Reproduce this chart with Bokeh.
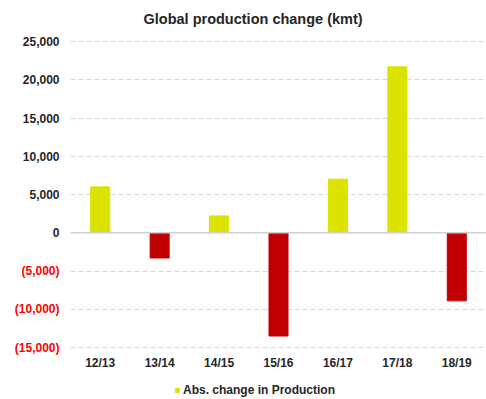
from bokeh.plotting import figure
from bokeh.layouts import row, column
from bokeh.models import (ColumnDataSource, FixedTicker, Span, Legend, LegendItem, Range1d)
from bokeh.embed import file_html
from bokeh.resources import INLINE

categories = ["12/13", "13/14", "14/15", "15/16", "16/17", "17/18", "18/19"]
values = [6000, -3300, 2200, -13500, 7000, 21700, -8900]
y_ticks = [-15000, -10000, -5000, 0, 5000, 10000, 15000, 20000, 25000]
title_text = "Global production change (kmt)"
legend_label = "Abs. change in Production"

POS = "#DCE300"
NEG = "#C00000"
FONT = "Liberation Sans"
TXT = "#262626"
NEG_TXT = "#FF0000"

# layout constants (pixels)
W_LEFT, W_MAIN, H_MAIN, H_LEG = 70, 416, 372, 27
TOP, BOT = 33, 17            # frame spans y = 33 .. 355
PAD_TOP, PAD_BOT = 8, 8      # pixels between frame edge and outer ticks
TICK_SPAN_PX = H_MAIN - TOP - BOT - PAD_TOP - PAD_BOT
ppu = (max(y_ticks) - min(y_ticks)) / TICK_SPAN_PX
Y0 = min(y_ticks) - PAD_BOT * ppu
Y1 = max(y_ticks) + PAD_TOP * ppu
yr = Range1d(Y0, Y1)

colors = [POS if v >= 0 else NEG for v in values]
src = ColumnDataSource(dict(cat=categories, val=values, color=colors))

# ---- main chart ----
p = figure(x_range=categories, y_range=yr, width=W_MAIN, height=H_MAIN,
           output_backend="svg", toolbar_location=None,
           min_border_left=0, min_border_right=0, min_border_top=TOP, min_border_bottom=BOT)
r = p.vbar(x="cat", top="val", bottom=0, width=0.32, color="color", source=src)

p.title.text = title_text
p.title.text_font = FONT
p.title.text_font_size = "14.5px"
p.title.text_font_style = "bold"
p.title.text_color = TXT
p.title.align = "left"
p.title.offset = 73
p.title.standoff = 14

p.outline_line_color = None
p.xgrid.grid_line_color = None
p.yaxis.visible = False
p.ygrid.ticker = FixedTicker(ticks=y_ticks)
p.ygrid.grid_line_color = "#d9d9d9"
p.ygrid.grid_line_dash = "5 3"
p.ygrid.grid_line_width = 1

p.xaxis.axis_line_color = None
p.xaxis.major_tick_line_color = None
p.xaxis.major_tick_out = 0
p.xaxis.major_label_standoff = 0
p.xaxis.major_label_text_font = FONT
p.xaxis.major_label_text_font_size = "12px"
p.xaxis.major_label_text_font_style = "bold"
p.xaxis.major_label_text_color = TXT

p.add_layout(Span(location=0, dimension="width", line_color="#d0d0d0", line_width=1.5))

# ---- y tick labels (black positives, red bracketed negatives) ----
left = figure(width=W_LEFT, height=H_MAIN, x_range=Range1d(0, 1), y_range=yr,
              output_backend="svg", toolbar_location=None,
              min_border_left=0, min_border_right=0, min_border_top=TOP, min_border_bottom=BOT,
              x_axis_location=None, y_axis_location=None)
left.outline_line_color = None
left.grid.visible = False
tick_text = [f"({abs(t):,})" if t < 0 else f"{t:,}" for t in y_ticks]
tick_color = [NEG_TXT if t < 0 else TXT for t in y_ticks]
left.text(x=[1] * len(y_ticks), y=y_ticks, text=tick_text, text_color=tick_color,
          x_offset=-11, text_align="right", text_baseline="middle",
          text_font={"value": FONT}, text_font_size="12px", text_font_style="bold")

# ---- legend strip ----
leg = figure(width=W_LEFT + W_MAIN, height=H_LEG, x_range=categories, y_range=Range1d(0, 1),
             output_backend="svg", toolbar_location=None,
             min_border_left=0, min_border_right=0, min_border_top=0, min_border_bottom=0,
             x_axis_location=None, y_axis_location=None)
leg.outline_line_color = None
leg.grid.visible = False
swatch = leg.vbar(x="cat", top=0, bottom=0, width=0.32, fill_color=POS, line_alpha=0,
                  source=src)
legend = Legend(items=[LegendItem(label=legend_label, renderers=[swatch], index=0)],
                orientation="horizontal", location=(174, 2),
                glyph_width=6, glyph_height=6, label_text_font=FONT,
                label_text_font_size="12px", label_text_font_style="bold",
                label_text_color=TXT, border_line_color=None, background_fill_alpha=0,
                padding=0, margin=0, label_standoff=3, spacing=0)
leg.add_layout(legend, "center")

layout = column(row(left, p), leg)
open("out.html", "w").write(file_html(layout, INLINE))
